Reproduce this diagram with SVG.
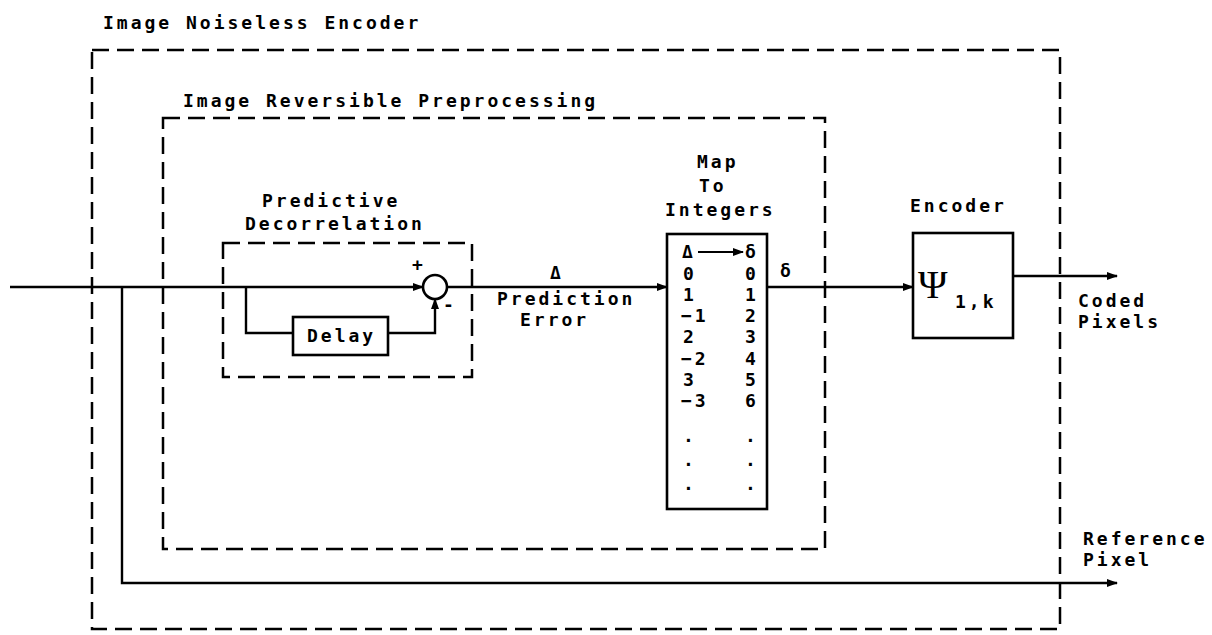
<svg xmlns="http://www.w3.org/2000/svg" width="1212" height="635" viewBox="0 0 1212 635">
<defs>
<style>
.t{font-family:"DejaVu Sans Mono",monospace;font-size:18px;font-weight:bold;fill:#000;letter-spacing:3px}
.d{fill:none;stroke:#000;stroke-width:2.5;stroke-dasharray:17 8}
.l{fill:none;stroke:#000;stroke-width:2.4}
.b{fill:#fff;stroke:#000;stroke-width:2.6}
</style>
<marker id="ah" markerWidth="11" markerHeight="8" refX="10" refY="4" orient="auto" markerUnits="userSpaceOnUse">
<path d="M0,0 L11,4 L0,8 z" fill="#000"/>
</marker>
</defs>
<rect width="1212" height="635" fill="#fff"/>
<g id="outer">
<rect class="d" x="92" y="50" width="968" height="579"/>
<text class="t" x="103" y="29">Image Noiseless Encoder</text>
</g>
<g id="preproc">
<rect class="d" x="163" y="118" width="662" height="431"/>
<text class="t" x="183" y="107">Image Reversible Preprocessing</text>
</g>
<g id="decorr">
<rect class="d" x="223" y="243" width="249" height="134"/>
<text class="t" x="262" y="207">Predictive</text>
<text class="t" x="245" y="230">Decorrelation</text>
</g>
<g id="sum">
<circle class="b" cx="435" cy="287" r="12"/>
<text class="t" x="412" y="271">+</text>
<text class="t" x="443" y="311">-</text>
</g>
<g id="delay">
<rect class="b" x="293" y="317" width="95" height="38"/>
<text class="t" x="307" y="342">Delay</text>
</g>
<g id="map">
<text class="t" x="697" y="168">Map</text>
<text class="t" x="699" y="192">To</text>
<text class="t" x="665" y="216">Integers</text>
<rect class="b" x="667" y="234" width="100" height="275"/>
<text class="t" x="682" y="258">Δ</text>
<line x1="698" y1="252" x2="743" y2="252" stroke="#000" stroke-width="2.2" marker-end="url(#ah)"/>
<text class="t" x="745" y="258">δ</text>
<g class="t">
<text x="683" y="280">0</text><text x="745" y="280">0</text>
<text x="683" y="301">1</text><text x="745" y="301">1</text>
<text x="681" y="322">−1</text><text x="745" y="322">2</text>
<text x="683" y="343">2</text><text x="745" y="343">3</text>
<text x="681" y="365">−2</text><text x="745" y="365">4</text>
<text x="683" y="386">3</text><text x="745" y="386">5</text>
<text x="681" y="407">−3</text><text x="745" y="407">6</text>
<text x="683" y="442">.</text><text x="745" y="442">.</text>
<text x="683" y="466">.</text><text x="745" y="466">.</text>
<text x="683" y="490">.</text><text x="745" y="490">.</text>
</g>
</g>
<g id="encoder">
<text class="t" x="910" y="212">Encoder</text>
<rect class="b" x="913" y="233" width="100" height="105"/>
<text x="918" y="298" style="font-family:'Liberation Serif',serif;font-size:40px;fill:#000">Ψ</text>
<text class="t" x="955" y="308">1,k</text>
</g>
<g id="connectors">
<line class="l" x1="10" y1="287" x2="423" y2="287" marker-end="url(#ah)"/>
<polyline class="l" points="246,287 246,333 293,333"/>
<polyline class="l" points="388,333 435,333 435,299" marker-end="url(#ah)"/>
<line class="l" x1="447" y1="287" x2="667" y2="287" marker-end="url(#ah)"/>
<line class="l" x1="767" y1="287" x2="913" y2="287" marker-end="url(#ah)"/>
<line class="l" x1="1013" y1="276" x2="1117" y2="276" marker-end="url(#ah)"/>
<polyline class="l" points="122,287 122,583 1117,583" marker-end="url(#ah)"/>
<text class="t" x="550" y="279">Δ</text>
<text class="t" x="497" y="305">Prediction</text>
<text class="t" x="520" y="326">Error</text>
<text class="t" x="780" y="277">δ</text>
<text class="t" x="1078" y="307">Coded</text>
<text class="t" x="1078" y="328">Pixels</text>
<text class="t" x="1083" y="545">Reference</text>
<text class="t" x="1083" y="566">Pixel</text>
</g>
</svg>
